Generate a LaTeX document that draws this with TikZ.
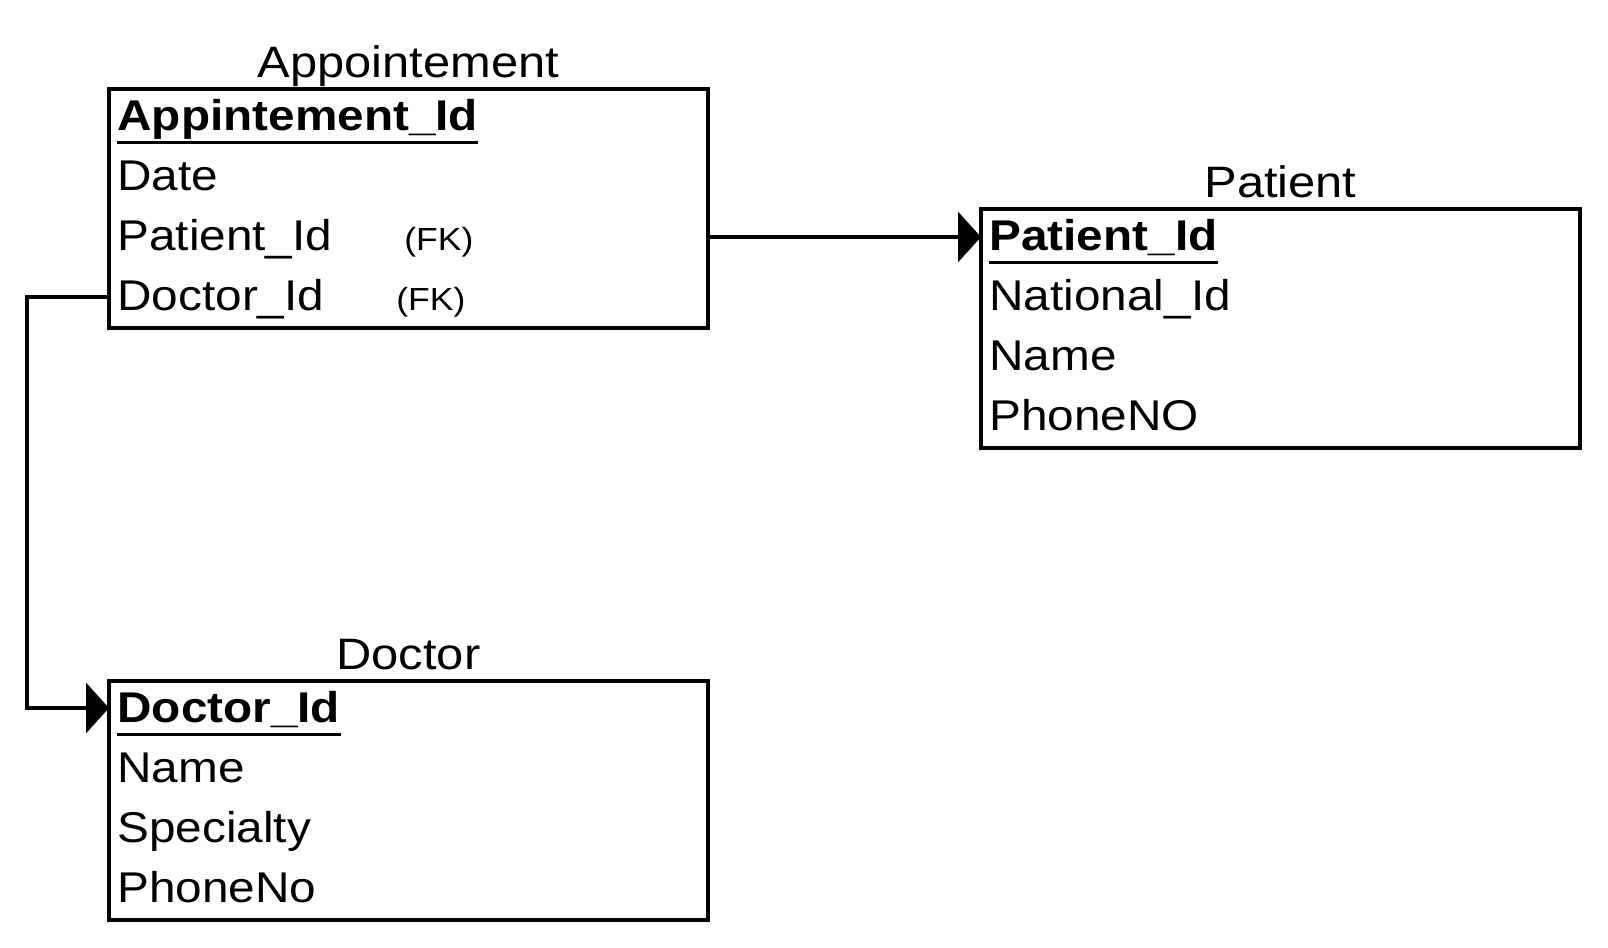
\documentclass[tikz,border=0pt]{standalone}
\usepackage{fontspec}
\setmainfont{Liberation Sans}[FakeStretch=1.11]
\usetikzlibrary{arrows.meta}
\begin{document}
\begin{tikzpicture}[x=0.5pt,y=-0.5pt,
  tbl/.style={draw, line width=1.75pt, inner sep=0pt, outer sep=0pt, minimum width=299.5pt, minimum height=119.5pt, anchor=north west},
  fld/.style={anchor=base west, inner sep=0pt, font=\fontsize{21.5pt}{26pt}\selectfont},
  pk/.style={anchor=base west, inner sep=0pt, font=\fontsize{21.5pt}{26pt}\selectfont\bfseries},
  fk/.style={anchor=base west, inner sep=0pt, font=\fontsize{16pt}{20pt}\selectfont},
  ttl/.style={anchor=base, inner sep=0pt, font=\fontsize{22pt}{26pt}\selectfont},
  uline/.style={line width=1.5pt},
  conn/.style={line width=1.75pt, -{Triangle[length=11.5pt,width=25pt]}}]
\useasboundingbox (0,0) rectangle (1608,948);

% Boxes
\node[tbl] (app) at (109,89) {};
\node[tbl] (pat) at (981,209) {};
\node[tbl] (doc) at (109,681) {};

% Titles
\node[ttl] (appt) at (408.5,77) {Appointement};
\node[ttl] (patt) at (1280.5,197) {Patient};
\node[ttl] (doct) at (408.5,669) {Doctor};

% Appointement fields
\node[pk] (a1) at (117,130) {Appintement\_Id};
\node[fld] (a2) at (117,190) {Date};
\node[fld] (a3) at (117,250) {Patient\_Id};
\node[fld] (a4) at (117,310) {Doctor\_Id};
\node[fk] (a3k) at (404,250) {(FK)};
\node[fk] (a4k) at (396,310) {(FK)};

% Patient fields
\node[pk] (p1) at (989,250) {Patient\_Id};
\node[fld] (p2) at (989,310) {National\_Id};
\node[fld] (p3) at (989,370) {Name};
\node[fld] (p4) at (989,430) {PhoneNO};

% Doctor fields
\node[pk] (d1) at (117,722) {Doctor\_Id};
\node[fld] (d2) at (117,782) {Name};
\node[fld] (d3) at (117,842) {Specialty};
\node[fld] (d4) at (117,902) {PhoneNo};

% Underlines of keys
\draw[uline] ([yshift=-6pt]a1.base west) -- ([yshift=-6pt]a1.base east);
\draw[uline] ([yshift=-6pt]p1.base west) -- ([yshift=-6pt]p1.base east);
\draw[uline] ([yshift=-6pt]d1.base west) -- ([yshift=-6pt]d1.base east);

% Connectors
\coordinate (r1) at (0,237);
\coordinate (bend) at (27,297);
\coordinate (r3) at (0,708);
\draw[conn] (app.east |- r1) -- (pat.west |- r1);
\draw[conn] (app.west |- bend) -- (bend) |- (doc.west |- r3);
\end{tikzpicture}
\end{document}
